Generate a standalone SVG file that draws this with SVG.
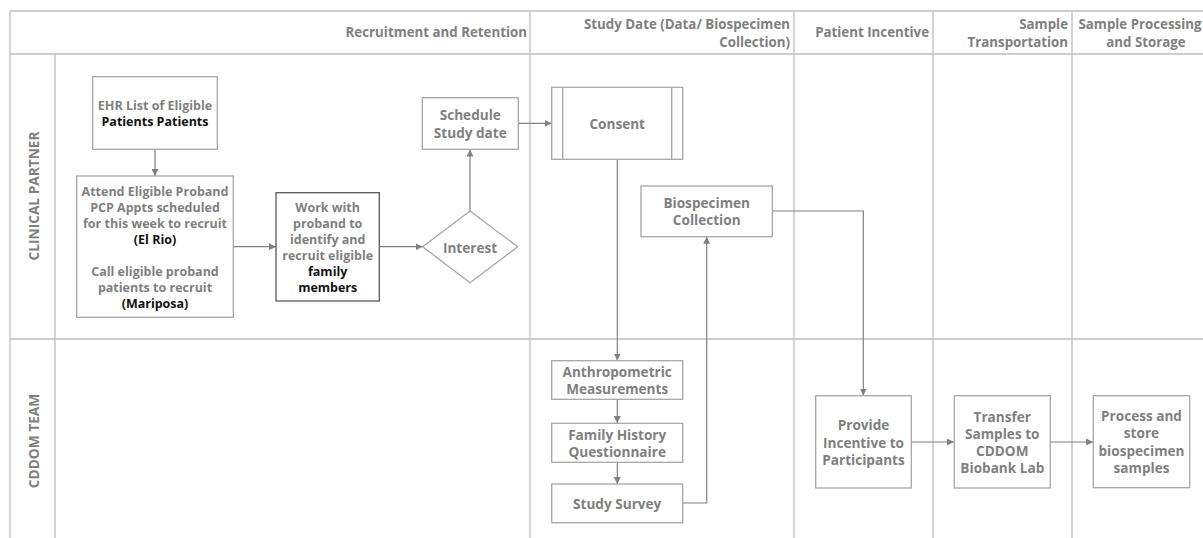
<svg xmlns="http://www.w3.org/2000/svg" width="1203" height="538" viewBox="0 0 1203 538">
<defs>
<style>
.pool{stroke:#bfbfbf;stroke-width:1.3;fill:none}
.box{fill:#fff;stroke:#a6a6a6;stroke-width:1.3}
.dark{fill:#fff;stroke:#595959;stroke-width:1.3}
.t{font-family:"Open Sans","Liberation Sans",sans-serif;font-weight:700;font-size:12.5px;fill:#7f7f7f;text-anchor:middle;dominant-baseline:central}
.b{font-size:13.6px}
.k{fill:#111}
.h{font-family:"Open Sans","Liberation Sans",sans-serif;font-weight:700;font-size:13.3px;fill:#7f7f7f;dominant-baseline:central}
.r{text-anchor:end}
.c{text-anchor:middle}
.lane{font-family:"Open Sans","Liberation Sans",sans-serif;font-weight:700;font-size:13.7px;fill:#7f7f7f;text-anchor:middle;dominant-baseline:central}
.con{stroke:#808080;stroke-width:1.2;fill:none}
.arr{marker-end:url(#ah)}
</style>
<marker id="ah" viewBox="0 0 10 10" refX="10" refY="5" markerWidth="7" markerHeight="7" markerUnits="userSpaceOnUse" orient="auto">
<path d="M0,0 L10,5 L0,10 z" fill="#808080"/>
</marker>
</defs>
<rect width="1203" height="538" fill="#fff"/>
<g id="pool">
<path class="pool" d="M10,11 H1203 M10,11 V538 M10,54 H1203 M55,54 V538 M10,339 H1203 M530,11 V538 M794,11 V538 M933,11 V538 M1072,11 V538"/>
<text class="h r" x="527" y="32">Recruitment and Retention</text>
<text class="h r" x="790" y="24">Study Date (Data/ Biospecimen</text>
<text class="h r" x="790" y="42">Collection)</text>
<text class="h r" x="929" y="32">Patient Incentive</text>
<text class="h r" x="1068" y="24">Sample</text>
<text class="h r" x="1068" y="42">Transportation</text>
<text class="h c" x="1140" y="24">Sample Processing</text>
<text class="h c" x="1146" y="42">and Storage</text>
<text class="lane" transform="translate(33,196) rotate(-90)">CLINICAL PARTNER</text>
<text class="lane" transform="translate(33,441) rotate(-90)">CDDOM TEAM</text>
</g>
<g id="connectors">
<path class="con arr" d="M155,149.5 V176"/>
<path class="con arr" d="M233.5,246.7 H276"/>
<path class="con arr" d="M379.5,246.7 H422.5"/>
<path class="con arr" d="M470,211 V149.5"/>
<path class="con arr" d="M518.5,123.3 H551.5"/>
<path class="con arr" d="M617.3,159.5 V360.5"/>
<path class="con arr" d="M617.3,399.5 V423"/>
<path class="con arr" d="M617.3,462.5 V484"/>
<path class="con arr" d="M683,503 H706.7 V236.8"/>
<path class="con arr" d="M772.5,211 H863.3 V395.5"/>
<path class="con arr" d="M911.5,442 H954"/>
<path class="con arr" d="M1050.5,442 H1093"/>
</g>
<g id="ehr">
<rect class="box" x="92.7" y="76.7" width="124.6" height="72.6"/>
<text class="t" x="155" y="105">EHR List of Eligible</text>
<text class="t k" x="155" y="121">Patients Patients</text>
</g>
<g id="attend">
<rect class="box" x="76.7" y="176" width="156.6" height="141.3"/>
<text class="t" x="155" y="191">Attend Eligible Proband</text>
<text class="t" x="155" y="207">PCP Appts scheduled</text>
<text class="t" x="155" y="223">for this week to recruit</text>
<text class="t k" x="155" y="239">(El Rio)</text>
<text class="t" x="155" y="271">Call eligible proband</text>
<text class="t" x="155" y="287">patients to recruit</text>
<text class="t k" x="155" y="303">(Mariposa)</text>
</g>
<g id="work">
<rect class="dark" x="276" y="192.7" width="103.3" height="108.3"/>
<text class="t" x="327.7" y="207">Work with</text>
<text class="t" x="327.7" y="223">proband to</text>
<text class="t" x="327.7" y="239">identify and</text>
<text class="t" x="327.7" y="255">recruit eligible</text>
<text class="t k" x="327.7" y="271">family</text>
<text class="t k" x="327.7" y="287">members</text>
</g>
<g id="interest">
<path class="box" d="M470,211 L517.7,246.8 L470,282.7 L422.7,246.8 Z"/>
<text class="t b" x="470" y="247">Interest</text>
</g>
<g id="schedule">
<rect class="box" x="422.3" y="97.7" width="96" height="51.6"/>
<text class="t b" x="470.3" y="114.5">Schedule</text>
<text class="t b" x="470.3" y="132.3">Study date</text>
</g>
<g id="consent">
<rect class="box" x="551.7" y="87.3" width="131" height="72"/>
<path class="box" d="M562.7,87.3 V159.3 M671.7,87.3 V159.3"/>
<text class="t b" x="617.2" y="123.3">Consent</text>
</g>
<g id="biospecimen">
<rect class="box" x="641" y="186" width="131.3" height="50.7"/>
<text class="t b" x="706.7" y="202.7">Biospecimen</text>
<text class="t b" x="706.7" y="219.3">Collection</text>
</g>
<g id="anthro">
<rect class="box" x="551.7" y="360.7" width="131" height="38.6"/>
<text class="t b" x="617.2" y="371.5">Anthropometric</text>
<text class="t b" x="617.2" y="388.3">Measurements</text>
</g>
<g id="family">
<rect class="box" x="551.7" y="423.3" width="131" height="39"/>
<text class="t b" x="617.2" y="434.3">Family History</text>
<text class="t b" x="617.2" y="451">Questionnaire</text>
</g>
<g id="survey">
<rect class="box" x="551.7" y="484" width="131" height="38.7"/>
<text class="t b" x="617.2" y="503.3">Study Survey</text>
</g>
<g id="provide">
<rect class="box" x="815.7" y="395.7" width="95.6" height="92.3"/>
<text class="t b" x="863.5" y="424.5">Provide</text>
<text class="t b" x="863.5" y="442">Incentive to</text>
<text class="t b" x="863.5" y="459">Participants</text>
</g>
<g id="transfer">
<rect class="box" x="954.3" y="395.7" width="96" height="92.3"/>
<text class="t b" x="1002.3" y="416">Transfer</text>
<text class="t b" x="1002.3" y="433.3">Samples to</text>
<text class="t b" x="1002.3" y="450">CDDOM</text>
<text class="t b" x="1002.3" y="467.3">Biobank Lab</text>
</g>
<g id="process">
<rect class="box" x="1093.3" y="395.7" width="96.4" height="92"/>
<text class="t b" x="1141.5" y="415.3">Process and</text>
<text class="t b" x="1141.5" y="432.7">store</text>
<text class="t b" x="1141.5" y="450">biospecimen</text>
<text class="t b" x="1141.5" y="467.3">samples</text>
</g>
</svg>
